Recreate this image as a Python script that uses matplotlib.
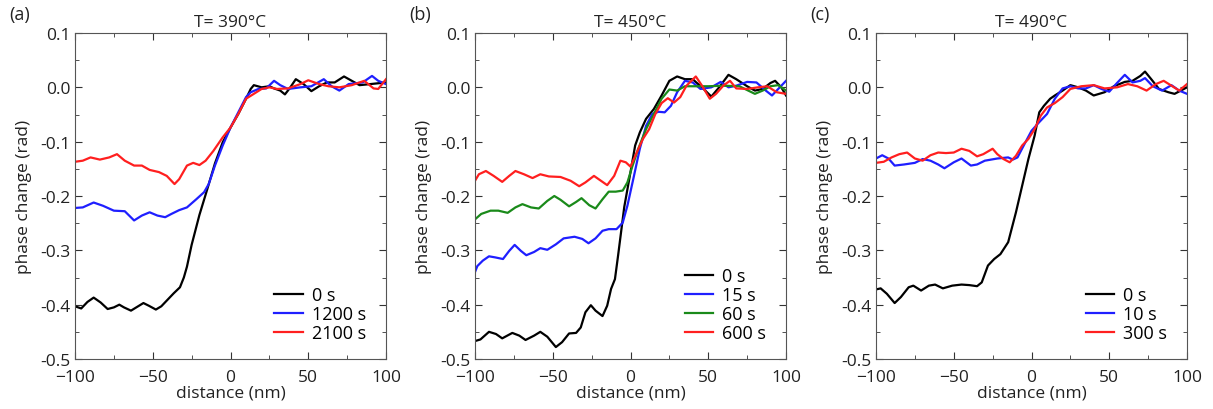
import matplotlib
matplotlib.use("Agg")
import matplotlib.pyplot as plt
from matplotlib.ticker import MultipleLocator

plt.rcParams['font.family'] = ['Open Sans', 'DejaVu Sans']

# ---- panel (a), T = 390 C ----
a0_x = [-100, -96, -92, -88, -83.5, -79, -75, -71.5, -68.5, -64, -60, -56, -52.5, -48, -44.5, -40.5, -36.5, -32.5, -30, -28, -25, -20, -15, -10, -5, 0, 5, 10, 13, 15, 20, 25, 28, 32, 35, 38, 42, 47, 52, 57, 62, 67, 73, 78, 83, 90, 100]
a0_y = [-0.403, -0.407, -0.395, -0.387, -0.396, -0.408, -0.405, -0.400, -0.405, -0.411, -0.404, -0.397, -0.402, -0.409, -0.403, -0.391, -0.379, -0.368, -0.350, -0.330, -0.290, -0.235, -0.188, -0.140, -0.101, -0.074, -0.049, -0.021, -0.003, 0.004, 0.000, 0.002, -0.002, -0.006, -0.013, -0.002, 0.015, 0.006, -0.007, 0.002, 0.009, 0.009, 0.020, 0.012, 0.004, 0.006, 0.009]
a1_x = [-100, -95, -88, -82, -75, -68, -62, -57, -52, -47, -42, -38, -33, -28, -22, -17, -14, -10, -5, 0, 5, 10, 13, 18, 23, 28, 32, 37, 45, 52, 60, 65, 70, 76, 85, 91, 95, 100]
a1_y = [-0.222, -0.221, -0.212, -0.218, -0.227, -0.228, -0.245, -0.236, -0.230, -0.236, -0.239, -0.233, -0.226, -0.221, -0.206, -0.193, -0.178, -0.144, -0.107, -0.074, -0.046, -0.018, -0.009, -0.003, -0.002, 0.012, 0.004, -0.003, 0.000, 0.002, 0.015, 0.002, -0.006, 0.006, 0.009, 0.021, 0.012, 0.006]
a2_x = [-100, -95, -90, -84, -78, -73, -68, -62, -57, -52, -46, -41, -36, -33, -28, -24, -20, -16, -11, -5, 0, 5, 10, 15, 20, 25, 30, 37, 45, 50, 57, 63, 70, 78, 86, 92, 95, 100]
a2_y = [-0.137, -0.135, -0.129, -0.133, -0.129, -0.123, -0.135, -0.144, -0.144, -0.152, -0.156, -0.163, -0.178, -0.169, -0.144, -0.139, -0.143, -0.135, -0.117, -0.092, -0.074, -0.049, -0.021, -0.012, -0.003, 0.000, -0.003, -0.002, 0.006, 0.013, 0.006, 0.002, 0.000, 0.004, 0.012, -0.002, -0.003, 0.015]

# ---- panel (b), T = 450 C ----
b0_x = [-100, -96.5, -91, -86.5, -82.5, -76, -71.5, -67.5, -62, -58, -53.5, -48, -44, -39.5, -35, -32, -29, -25.5, -22.5, -18, -15, -12.5, -10, -8, -4, 0, 3, 6, 10, 15, 20, 25, 30, 35, 40, 47, 52, 57, 63, 68, 75, 80, 85, 90, 93, 97, 100]
b0_y = [-0.467, -0.464, -0.450, -0.454, -0.462, -0.452, -0.457, -0.465, -0.457, -0.450, -0.459, -0.478, -0.469, -0.453, -0.452, -0.442, -0.414, -0.401, -0.411, -0.421, -0.402, -0.371, -0.353, -0.310, -0.220, -0.156, -0.107, -0.083, -0.058, -0.040, -0.015, 0.012, 0.020, 0.015, 0.015, -0.003, -0.017, 0.000, 0.023, 0.015, 0.002, -0.006, -0.003, 0.008, 0.012, 0.000, -0.015]
b1_x = [-100, -98.5, -95, -91, -87, -82, -78, -74.5, -70.5, -67, -62, -58, -53.5, -48, -43, -36, -31, -27, -22.5, -18, -14, -9, -5, -2, 2, 6, 10, 14, 18, 22, 26, 30, 35, 40, 45, 52, 58, 63, 68, 75, 81, 87, 91, 95, 100]
b1_y = [-0.340, -0.329, -0.319, -0.311, -0.313, -0.316, -0.301, -0.290, -0.301, -0.309, -0.303, -0.296, -0.299, -0.289, -0.278, -0.275, -0.279, -0.287, -0.278, -0.264, -0.261, -0.261, -0.249, -0.218, -0.166, -0.113, -0.071, -0.049, -0.045, -0.046, -0.034, -0.009, 0.012, 0.009, -0.003, 0.000, 0.010, 0.000, 0.003, 0.010, 0.009, -0.006, -0.015, -0.003, 0.012]
b2_x = [-100, -96, -90, -85, -79, -74, -69.5, -64, -59, -53.5, -49, -45, -39.5, -35, -31.5, -26.5, -22.5, -18, -14, -9.5, -5, -2, 1, 5, 10, 15, 20, 25, 30, 35, 40, 50, 60, 70, 80, 85, 90, 95, 100]
b2_y = [-0.243, -0.233, -0.227, -0.227, -0.231, -0.221, -0.215, -0.221, -0.223, -0.209, -0.200, -0.207, -0.219, -0.211, -0.204, -0.217, -0.223, -0.206, -0.192, -0.192, -0.190, -0.175, -0.147, -0.113, -0.077, -0.049, -0.021, -0.004, -0.006, 0.002, 0.002, 0.002, 0.003, 0.002, -0.012, -0.006, 0.002, 0.004, -0.006]
b3_x = [-100, -97.5, -93, -88, -82.5, -78, -74, -68.5, -63, -58, -52.5, -45, -38.5, -33, -29, -23.5, -19, -15, -10.5, -6.5, -3, 0, 4, 8, 12, 16, 20, 24, 28, 32, 36, 42, 46, 51, 55, 60, 64, 68, 75, 82, 88, 94, 100]
b3_y = [-0.172, -0.160, -0.154, -0.163, -0.174, -0.163, -0.154, -0.160, -0.167, -0.160, -0.164, -0.165, -0.172, -0.182, -0.175, -0.163, -0.172, -0.180, -0.163, -0.135, -0.138, -0.146, -0.120, -0.095, -0.077, -0.049, -0.029, -0.020, -0.028, -0.018, 0.003, 0.020, 0.003, -0.021, -0.012, 0.004, 0.012, -0.002, -0.003, 0.000, 0.002, -0.009, -0.012]

# ---- panel (c), T = 490 C ----
c0_x = [-100, -97, -93, -88, -84, -79, -76, -71, -66, -62, -57, -51, -45, -40, -35, -32, -28, -24, -20, -15, -10, -6, -2, 2, 5, 8, 12, 15, 20, 25, 30, 35, 40, 47, 53, 60, 65, 70, 73, 77, 82, 88, 92, 96, 100]
c0_y = [-0.372, -0.370, -0.380, -0.397, -0.386, -0.368, -0.365, -0.374, -0.365, -0.363, -0.370, -0.365, -0.363, -0.364, -0.366, -0.359, -0.328, -0.316, -0.307, -0.285, -0.230, -0.181, -0.132, -0.089, -0.046, -0.034, -0.021, -0.015, -0.006, 0.004, 0.000, -0.006, -0.015, -0.009, 0.002, 0.010, 0.012, 0.021, 0.029, 0.015, -0.003, -0.009, -0.012, -0.006, 0.000]
c1_x = [-100, -96, -92, -88, -82, -75, -70, -65, -60, -56, -50, -45, -39, -35, -30, -22, -15, -12, -9, -5, 0, 5, 10, 15, 20, 25, 30, 35, 40, 45, 50, 55, 60, 65, 70, 73, 78, 84, 90, 95, 100]
c1_y = [-0.131, -0.125, -0.131, -0.144, -0.142, -0.139, -0.132, -0.135, -0.142, -0.149, -0.138, -0.131, -0.144, -0.142, -0.135, -0.131, -0.129, -0.133, -0.129, -0.107, -0.080, -0.064, -0.049, -0.021, -0.002, 0.002, -0.002, -0.002, 0.004, -0.003, -0.008, 0.008, 0.023, 0.009, 0.012, 0.017, 0.002, -0.006, 0.004, -0.006, -0.012]
c2_x = [-100, -95, -90, -85, -80, -75, -70, -65, -60, -55, -50, -45, -40, -35, -31, -25, -22, -18, -14, -10, -6, -2, 2, 6, 10, 15, 20, 25, 32, 40, 47, 55, 62, 68, 74, 80, 85, 90, 95, 100]
c2_y = [-0.139, -0.137, -0.129, -0.123, -0.120, -0.131, -0.135, -0.125, -0.120, -0.121, -0.120, -0.113, -0.117, -0.127, -0.123, -0.113, -0.123, -0.132, -0.138, -0.126, -0.107, -0.095, -0.077, -0.052, -0.037, -0.029, -0.018, -0.003, 0.002, 0.004, -0.002, 0.000, 0.006, 0.002, -0.006, 0.006, 0.012, 0.003, -0.006, 0.006]

panels = [
    ("(a)", "T= 390°C", [(a0_x, a0_y, "0 s", "black"), (a1_x, a1_y, "1200 s", "#1f1fff"), (a2_x, a2_y, "2100 s", "#ff1f1f")]),
    ("(b)", "T= 450°C", [(b0_x, b0_y, "0 s", "black"), (b1_x, b1_y, "15 s", "#1f1fff"), (b2_x, b2_y, "60 s", "#1a8a1a"), (b3_x, b3_y, "600 s", "#ff1f1f")]),
    ("(c)", "T= 490°C", [(c0_x, c0_y, "0 s", "black"), (c1_x, c1_y, "10 s", "#1f1fff"), (c2_x, c2_y, "300 s", "#ff1f1f")]),
]

fig = plt.figure(figsize=(12.13, 4.10), dpi=100)
lefts = [75, 475, 876]
for (tag, title, curves), lp in zip(panels, lefts):
    ax = fig.add_axes([lp / 1213, 1 - 360 / 410, 311 / 1213, 326 / 410])
    for x, y, lab, col in curves:
        ax.plot(x, y, color=col, lw=1.6, label=lab, solid_joinstyle="round")
    ax.set_xlim(-100, 100)
    ax.set_ylim(-0.5, 0.1)
    ax.xaxis.set_major_locator(MultipleLocator(50))
    ax.xaxis.set_minor_locator(MultipleLocator(25))
    ax.yaxis.set_major_locator(MultipleLocator(0.1))
    ax.yaxis.set_minor_locator(MultipleLocator(0.05))
    ax.yaxis.set_major_formatter(plt.FuncFormatter(lambda v, p: "%.1f" % v if abs(v) > 1e-9 else "0.0"))
    ax.tick_params(which="both", direction="in", top=True, right=True, labelsize=12.5, colors="#333333", labelcolor="#222222")
    ax.tick_params(axis="x", which="major", pad=7)
    ax.tick_params(which="major", length=5)
    ax.tick_params(which="minor", length=3)
    for s in ax.spines.values():
        s.set_color("#555555")
    ax.set_xlabel("distance (nm)", fontsize=12.5, labelpad=0, color="#222222")
    ax.set_ylabel("phase change (rad)", fontsize=12.5, labelpad=6, color="#222222")
    ax.set_title(title, fontsize=12.5, pad=5, color="#222222")
    fig.text((lp - 66) / 1213, 1 - 15 / 410, tag, fontsize=13, va="center", color="#222222")
    ax.legend(loc="lower right", frameon=False, fontsize=13, handlelength=1.6, labelspacing=0.05,
              borderaxespad=0.0, handletextpad=0.5, bbox_to_anchor=(0.96, 0.03))

fig.savefig("out.png", dpi=100)
